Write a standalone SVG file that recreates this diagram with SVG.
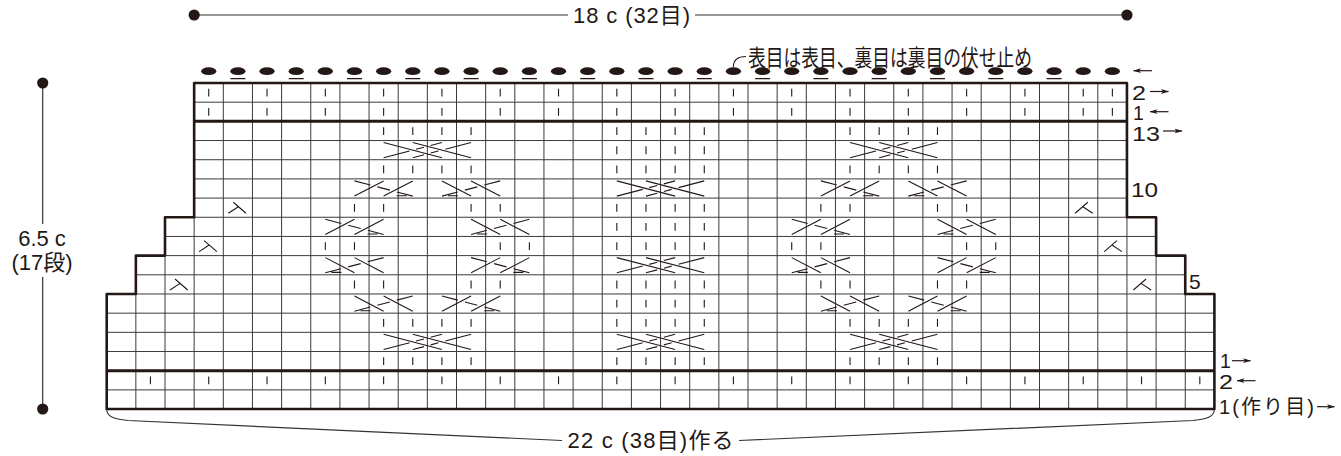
<svg xmlns="http://www.w3.org/2000/svg" width="1341" height="456" viewBox="0 0 1341 456">
<style>
.g{stroke:#3a3a3a;stroke-width:1;fill:none}
.b{stroke:#231815;stroke-width:2.6;fill:none;stroke-linejoin:round}
.tk{stroke:#231815;stroke-width:3;fill:none}
.s{stroke:#231815;stroke-width:1.1;fill:none}
.dim{stroke:#333;stroke-width:1.2;fill:none}
.dot{fill:#231815}
.t{font-family:"Liberation Sans","Noto Sans CJK JP",sans-serif;fill:#231815}
.ar{stroke:#231815;stroke-width:1.2;fill:none;marker-end:url(#ah)}
</style>
<defs>
<marker id="ah" viewBox="0 0 8 6" markerWidth="8" markerHeight="6" refX="7.5" refY="3" orient="auto" markerUnits="userSpaceOnUse"><path d="M0 0.6L8 3L0 5.4L2 3Z" fill="#231815"/></marker>
<path id="k" class="s" d="M14.575 5.8v7.8"/>
<path id="k2" class="s" d="M14.575 5.8v7.8M43.725 5.8v7.8"/>
<path id="k4" class="s" d="M14.575 5.8v7.8M43.725 5.8v7.8M72.875 5.8v7.8M102.025 5.8v7.8"/>
<path id="c4" class="s" d="M14.575 2L72.875 17.2M43.725 2L102.025 17.2M14.575 17.2L40.5 10.45M47 8.75L55 6.65M61.6 4.95L72.875 2M43.725 17.2L55 14.26M61.6 12.54L69.4 10.5M76.3 8.7L102.025 2"/>
<path id="xr" class="s" d="M14.575 17.2L43.725 2M43.725 17.2L72.875 2M72.875 17.2L57 13.06M50 11.24L37.5 7.98M30.5 6.15L14.575 2M56.8 16.8H66.8"/>
<path id="xl" class="s" d="M72.875 17.2L43.725 2M43.725 17.2L14.575 2M14.575 17.2L30.45 13.06M37.45 11.24L49.95 7.98M56.95 6.15L72.875 2M20.65 16.8H30.65"/>
<path id="dl" class="s" d="M10 4.2L22.7 15.2M5 15.2L15 8.6"/>
<path id="dr" class="s" d="M19.15 4.2L6.45 15.2M24.15 15.2L14.15 8.6"/>
<path id="ribTop" class="s" d="M208.725 5.8v7.8M267.025 5.8v7.8M325.325 5.8v7.8M383.625 5.8v7.8M441.925 5.8v7.8M500.225 5.8v7.8M558.525 5.8v7.8M616.825 5.8v7.8M675.125 5.8v7.8M733.425 5.8v7.8M791.725 5.8v7.8M850.025 5.8v7.8M908.325 5.8v7.8M966.625 5.8v7.8M1024.925 5.8v7.8M1083.225 5.8v7.8M1112.375 5.8v7.8"/>
<ellipse id="d" class="dot" rx="7.6" ry="3.9"/>
</defs>
<rect width="1341" height="456" fill="#fff"/>

<g id="grid">
<path class="g" d="M194.15 83V409.06M223.3 83V409.06M252.45 83V409.06M281.6 83V409.06M310.75 83V409.06M339.9 83V409.06M369.05 83V409.06M398.2 83V409.06M427.35 83V409.06M456.5 83V409.06M485.65 83V409.06M514.8 83V409.06M543.95 83V409.06M573.1 83V409.06M602.25 83V409.06M631.4 83V409.06M660.55 83V409.06M689.7 83V409.06M718.85 83V409.06M748 83V409.06M777.15 83V409.06M806.3 83V409.06M835.45 83V409.06M864.6 83V409.06M893.75 83V409.06M922.9 83V409.06M952.05 83V409.06M981.2 83V409.06M1010.35 83V409.06M1039.5 83V409.06M1068.65 83V409.06M1097.8 83V409.06M1126.95 83V409.06M165 217.26V409.06M1156.1 217.26V409.06M135.85 255.62V409.06M1185.25 255.62V409.06"/>
<path class="g" d="M194.15 102.18H1126.95M194.15 140.54H1126.95M194.15 159.72H1126.95M194.15 178.9H1126.95M194.15 198.08H1126.95M165 217.26H1156.1M165 236.44H1156.1M135.85 255.62H1185.25M135.85 274.8H1185.25M106.7 293.98H1214.4M106.7 313.16H1214.4M106.7 332.34H1214.4M106.7 351.52H1214.4M106.7 389.88H1214.4"/>
<path class="tk" d="M194.15 121.36H1126.95M106.7 370.7H1214.4"/>
<path class="b" d="M194.15 83H1126.95V217.26H1156.1V255.62H1185.25V293.98H1214.4V409.06H106.7V293.98H135.85V255.62H165V217.26H194.15Z"/>
</g>

<g id="rib-rows">
<use href="#ribTop" y="83"/>
<use href="#ribTop" y="102.18"/>
<path class="s" d="M150.425 376.5v7.8M208.725 376.5v7.8M267.025 376.5v7.8M325.325 376.5v7.8M383.625 376.5v7.8M441.925 376.5v7.8M500.225 376.5v7.8M558.525 376.5v7.8M616.825 376.5v7.8M675.125 376.5v7.8M733.425 376.5v7.8M791.725 376.5v7.8M850.025 376.5v7.8M908.325 376.5v7.8M966.625 376.5v7.8M1024.925 376.5v7.8M1083.225 376.5v7.8M1141.525 376.5v7.8M1199.825 376.5v7.8"/>
</g>

<g id="center-cable">
<use href="#k4" x="602.25" y="121.36"/>
<use href="#k4" x="602.25" y="140.54"/>
<use href="#k4" x="602.25" y="159.72"/>
<use href="#c4" x="602.25" y="178.9"/>
<use href="#k4" x="602.25" y="198.08"/>
<use href="#k4" x="602.25" y="217.26"/>
<use href="#k4" x="602.25" y="236.44"/>
<use href="#c4" x="602.25" y="255.62"/>
<use href="#k4" x="602.25" y="274.8"/>
<use href="#k4" x="602.25" y="293.98"/>
<use href="#k4" x="602.25" y="313.16"/>
<use href="#c4" x="602.25" y="332.34"/>
<use href="#k4" x="602.25" y="351.52"/>
</g>

<g id="left-diamond">
<use href="#k4" x="369.05" y="121.36"/>
<use href="#c4" x="369.05" y="140.54"/>
<use href="#k4" x="369.05" y="159.72"/>
<use href="#xr" x="339.9" y="178.9"/>
<use href="#xl" x="427.35" y="178.9"/>
<use href="#k2" x="339.9" y="198.08"/>
<use href="#k2" x="456.5" y="198.08"/>
<use href="#xr" x="310.75" y="217.26"/>
<use href="#xl" x="456.5" y="217.26"/>
<use href="#k2" x="310.75" y="236.44"/>
<use href="#k2" x="485.65" y="236.44"/>
<use href="#xl" x="310.75" y="255.62"/>
<use href="#xr" x="456.5" y="255.62"/>
<use href="#k2" x="339.9" y="274.8"/>
<use href="#k2" x="456.5" y="274.8"/>
<use href="#xl" x="339.9" y="293.98"/>
<use href="#xr" x="427.35" y="293.98"/>
<use href="#k4" x="369.05" y="313.16"/>
<use href="#c4" x="369.05" y="332.34"/>
<use href="#k4" x="369.05" y="351.52"/>
</g>

<g id="right-diamond">
<use href="#k4" x="835.45" y="121.36"/>
<use href="#c4" x="835.45" y="140.54"/>
<use href="#k4" x="835.45" y="159.72"/>
<use href="#xr" x="806.3" y="178.9"/>
<use href="#xl" x="893.75" y="178.9"/>
<use href="#k2" x="806.3" y="198.08"/>
<use href="#k2" x="922.9" y="198.08"/>
<use href="#xr" x="777.15" y="217.26"/>
<use href="#xl" x="922.9" y="217.26"/>
<use href="#k2" x="777.15" y="236.44"/>
<use href="#k2" x="952.05" y="236.44"/>
<use href="#xl" x="777.15" y="255.62"/>
<use href="#xr" x="922.9" y="255.62"/>
<use href="#k2" x="806.3" y="274.8"/>
<use href="#k2" x="922.9" y="274.8"/>
<use href="#xl" x="806.3" y="293.98"/>
<use href="#xr" x="893.75" y="293.98"/>
<use href="#k4" x="835.45" y="313.16"/>
<use href="#c4" x="835.45" y="332.34"/>
<use href="#k4" x="835.45" y="351.52"/>
</g>

<g id="decreases">
<use href="#dl" x="223.3" y="198.08"/>
<use href="#dl" x="194.15" y="236.44"/>
<use href="#dl" x="165" y="274.8"/>
<use href="#dr" x="1068.65" y="198.08"/>
<use href="#dr" x="1097.8" y="236.44"/>
<use href="#dr" x="1126.95" y="274.8"/>
</g>

<g id="bind-off">
<use href="#d" x="208.725" y="71.2"/><use href="#d" x="237.875" y="71.2"/><use href="#d" x="267.025" y="71.2"/><use href="#d" x="296.175" y="71.2"/><use href="#d" x="325.325" y="71.2"/><use href="#d" x="354.475" y="71.2"/><use href="#d" x="383.625" y="71.2"/><use href="#d" x="412.775" y="71.2"/><use href="#d" x="441.925" y="71.2"/><use href="#d" x="471.075" y="71.2"/><use href="#d" x="500.225" y="71.2"/><use href="#d" x="529.375" y="71.2"/><use href="#d" x="558.525" y="71.2"/><use href="#d" x="587.675" y="71.2"/><use href="#d" x="616.825" y="71.2"/><use href="#d" x="645.975" y="71.2"/><use href="#d" x="675.125" y="71.2"/><use href="#d" x="704.275" y="71.2"/><use href="#d" x="733.425" y="71.2"/><use href="#d" x="762.575" y="71.2"/><use href="#d" x="791.725" y="71.2"/><use href="#d" x="820.875" y="71.2"/><use href="#d" x="850.025" y="71.2"/><use href="#d" x="879.175" y="71.2"/><use href="#d" x="908.325" y="71.2"/><use href="#d" x="937.475" y="71.2"/><use href="#d" x="966.625" y="71.2"/><use href="#d" x="995.775" y="71.2"/><use href="#d" x="1024.925" y="71.2"/><use href="#d" x="1054.075" y="71.2"/><use href="#d" x="1083.225" y="71.2"/><use href="#d" x="1112.375" y="71.2"/>
<path stroke="#231815" stroke-width="1.4" fill="none" d="M230.4 78.6h15M288.7 78.6h15M347 78.6h15M405.3 78.6h15M463.6 78.6h15M521.9 78.6h15M580.2 78.6h15M638.5 78.6h15M696.8 78.6h15M755.1 78.6h15M813.4 78.6h15M871.7 78.6h15M930 78.6h15M988.3 78.6h15M1046.6 78.6h15"/>
<path class="s" d="M733.4 67C733.4 60 737 56.5 746 56.5"/>
<text class="t" x="748" y="66" font-size="23" textLength="284" lengthAdjust="spacingAndGlyphs">表目は表目、裏目は裏目の伏せ止め</text>
</g>

<g id="row-labels">
<path class="ar" d="M1152 70.7H1133.5"/>
<text class="t" x="1132" y="99.5" font-size="19.5" textLength="14" lengthAdjust="spacingAndGlyphs">2</text>
<path class="ar" d="M1150 91.5H1168.5"/>
<text class="t" x="1133" y="119.8" font-size="19.5">1</text>
<path class="ar" d="M1168.5 111.7H1150"/>
<text class="t" x="1132" y="141" font-size="19.5" textLength="28" lengthAdjust="spacingAndGlyphs">13</text>
<path class="ar" d="M1163 131H1182"/>
<text class="t" x="1131" y="197" font-size="21" textLength="27" lengthAdjust="spacingAndGlyphs">10</text>
<text class="t" x="1189" y="289" font-size="21">5</text>
<text class="t" x="1220" y="368.3" font-size="19.5">1</text>
<path class="ar" d="M1232 360.7H1250.5"/>
<text class="t" x="1219" y="389.2" font-size="19.5" textLength="14" lengthAdjust="spacingAndGlyphs">2</text>
<path class="ar" d="M1255.5 380.7H1237"/>
<text class="t" x="1219" y="413.8" font-size="20" textLength="95" lengthAdjust="spacing">1(作り目)</text>
<path class="ar" d="M1317 406.7H1334.5"/>
</g>

<g id="dimensions">
<path class="dim" d="M194.15 15H568M695 15H1126.95"/>
<circle class="dot" cx="194.15" cy="15" r="5.6"/>
<circle class="dot" cx="1126.95" cy="15" r="5.6"/>
<text class="t" x="573" y="23" font-size="22" textLength="117" lengthAdjust="spacing">18 c (32目)</text>
<path class="dim" d="M42.7 83V224M42.7 277V409"/>
<circle class="dot" cx="42.7" cy="83" r="5.6"/>
<circle class="dot" cx="42.7" cy="409" r="5.6"/>
<text class="t" x="42" y="246" font-size="22" text-anchor="middle">6.5 c</text>
<text class="t" x="42" y="270" font-size="22" text-anchor="middle">(17段)</text>
<path class="dim" d="M106.7 410C107.5 416.5 112 418.5 128 420.5L562 440.5M739 440.5L1193 420.5C1209 418.5 1213.5 416.5 1214.4 410"/>
<text class="t" x="567.6" y="448" font-size="22" textLength="166" lengthAdjust="spacing">22 c (38目)作る</text>
</g>
</svg>
